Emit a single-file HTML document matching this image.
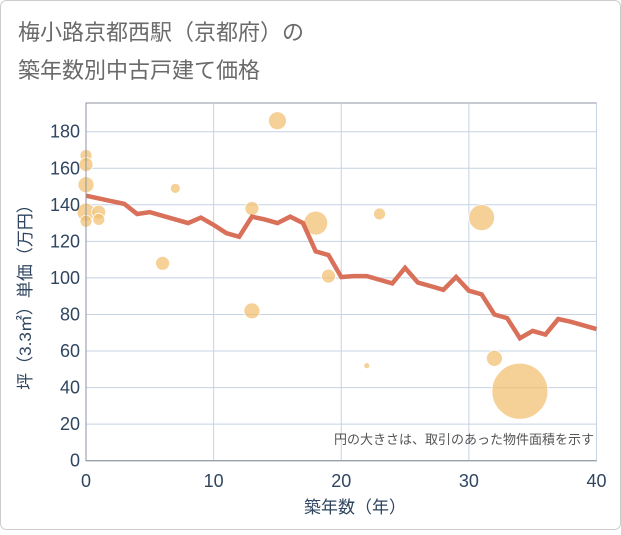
<!DOCTYPE html>
<html><head><meta charset="utf-8"><style>
body{margin:0;background:#fff;}
svg text{font-family:"Liberation Sans","Noto Sans CJK JP",sans-serif;}
</style></head><body>
<svg width="621" height="530" xmlns="http://www.w3.org/2000/svg">
<rect x="0.5" y="0.5" width="620" height="529" rx="6" fill="#fff" stroke="#ccc"/>
<text x="18" y="40" font-size="22" fill="#6a6a6a">梅小路京都西駅（京都府）の</text>
<text x="18" y="78" font-size="22" fill="#6a6a6a">築年数別中古戸建て価格</text>
<g id="grid"></g>
<g id="bubbles"></g>
<g id="line"></g>
<g id="axes"></g>
<text x="594" y="444" font-size="13" fill="#555" text-anchor="end">円の大きさは、取引のあった物件面積を示す</text>
<text x="355" y="513" font-size="17" fill="#2f4560" text-anchor="middle">築年数（年）</text>
<text transform="translate(31,293) rotate(-90)" font-size="17" fill="#2f4560" text-anchor="middle">坪（3.3㎡）単価（万円）</text>
</svg>
<script>
const xTicks=[0,10,20,30,40];
const yTicks=[0,20,40,60,80,100,120,140,160,180];
const lineYears=[0,1,2,3,4,5,6,7,8,9,10,11,12,13,14,15,16,17,18,19,20,21,22,23,24,25,26,27,28,29,30,31,32,33,34,35,36,37,38,39,40];
const lineValues=[145,143.5,142,140.5,135,136,134,132,130,133,129,124.5,122.5,133.5,132,130,133.5,130,114.5,112.5,100.5,101,101,99,97,105.5,97.5,95.5,93.5,100.5,93,91,80,78,67,71,69,77.5,76,74,72];
const bubbleYears=[0,0,0,0,0,1,1,7,6,13,13,15,18,19,23,22,31,32,34];
const bubbleValues=[167,162,151,136,131,136,132,149,108,138,82,186,130,101,135,52,133,56,38];
const bubbleRadii=[6,7,8,9,6,7,6,5,7,7,8,9,12,7,6,3,13,8,28];
const NS="http://www.w3.org/2000/svg";
const X0=86,X1=596.5,Y0=460.7,YT=103;
const sx=v=>X0+(v/40)*(X1-X0);
const sy=v=>Y0-(v/180)*(Y0-131.7);
function mk(t,a,p){const e=document.createElementNS(NS,t);for(const k in a)e.setAttribute(k,a[k]);p.appendChild(e);return e;}
const grid=document.getElementById('grid'),axes=document.getElementById('axes');
mk('rect',{x:X0,y:YT,width:X1-X0,height:Y0-YT,fill:'none',stroke:'#8c96a0','stroke-width':1},grid);
xTicks.forEach(t=>{const l=mk('line',{x1:sx(t),x2:sx(t),y1:YT,y2:Y0,stroke:'#c5d3e3','stroke-width':1},grid);


const tx=mk('text',{x:sx(t),y:487,'font-size':18,fill:'#2f4560','text-anchor':'middle'},axes);tx.textContent=t;

});
yTicks.forEach(t=>{const l=mk('line',{x1:X0,x2:X1,y1:sy(t),y2:sy(t),stroke:'#c5d3e3','stroke-width':1},grid);


const tx=mk('text',{x:80,y:sy(t)+6,'font-size':18,fill:'#2f4560','text-anchor':'end'},axes);tx.textContent=t;

});
mk('line',{x1:X0,x2:X0,y1:YT,y2:Y0,stroke:'#8c96a0'},axes);
mk('line',{x1:X0,x2:X1,y1:Y0,y2:Y0,stroke:'#8c96a0'},axes);
const bg=document.getElementById('bubbles');
bubbleYears.forEach((yr,i)=>{const c=mk('circle',{cx:sx(yr),cy:sy(bubbleValues[i]),r:bubbleRadii[i],fill:'#f2bd6b','fill-opacity':0.7,stroke:'#fff','stroke-width':0.8},bg);

});
const pts=lineYears.map((yr,i)=>sx(yr)+','+sy(lineValues[i])).join(' ');
const pl=mk('polyline',{points:pts,fill:'none',stroke:'#d9705a','stroke-width':4.5,'stroke-linejoin':'miter'},document.getElementById('line'));


</script>
</body></html>
